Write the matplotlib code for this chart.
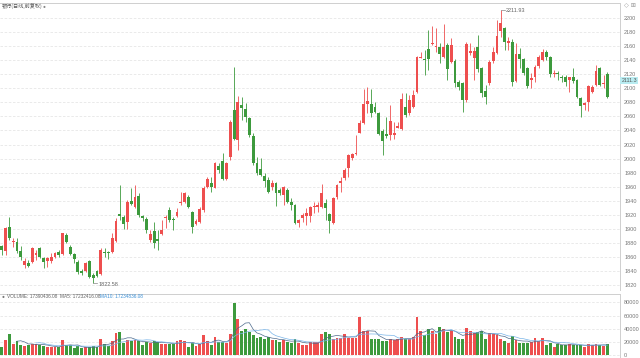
import numpy as np
import pandas as pd
import matplotlib
matplotlib.use("Agg")
import matplotlib.pyplot as plt
import matplotlib.transforms as mtransforms

# daily bars (red = up, green = down)
opens = [1875.8, 1869.2, 1903.3, 1881.0, 1881.0, 1869.2, 1848.8, 1851.1, 1853.5, 1863.0,
         1873.4, 1858.2, 1854.5, 1854.9, 1860.6, 1866.8, 1864.4, 1891.4, 1874.8, 1864.4,
         1853.5, 1840.7, 1840.7, 1854.5, 1834.6, 1840.7, 1835.5, 1866.8, 1867.2, 1867.7,
         1883.4, 1921.3, 1917.5, 1910.4, 1939.8, 1931.7, 1947.4, 1918.4, 1913.7, 1884.3,
         1897.1, 1885.3, 1892.4, 1915.1, 1927.0, 1914.6, 1918.4, 1936.5, 1938.8, 1945.0,
         1923.7, 1907.1, 1910.4, 1927.0, 1959.2, 1965.8, 1958.7, 1989.5, 1996.2, 1970.6,
         2002.8, 2069.2, 2026.5, 2076.3, 2070.1, 2057.3, 2032.7, 1994.3, 1984.8, 1975.3,
         1969.6, 1960.2, 1964.9, 1955.4, 1948.3, 1955.4, 1938.8, 1934.1, 1908.9, 1915.1,
         1918.4, 1918.4, 1930.8, 1931.7, 1931.7, 1937.4, 1921.3, 1908.9, 1945.9, 1964.9,
         1972.0, 1986.2, 2000.4, 2006.6, 2036.9, 2050.2, 2077.2, 2077.7, 2073.9, 2065.4,
         2039.3, 2035.1, 2033.6, 2033.6, 2044.1, 2041.7, 2073.9, 2064.4, 2073.9, 2095.2,
         2143.1, 2142.2, 2155.5, 2163.5, 2159.2, 2159.2, 2144.1, 2161.6, 2137.9, 2139.3,
         2109.5, 2107.1, 2083.4, 2150.7, 2142.7, 2159.2, 2128.4, 2096.7, 2107.1, 2139.3,
         2150.7, 2182.0, 2185.3, 2164.9, 2166.4, 2110.9, 2148.8, 2141.2, 2128.4, 2111.8,
         2116.6, 2131.7, 2140.3, 2152.1, 2145.0, 2120.4, 2122.3, 2116.6, 2116.6, 2111.8,
         2115.6, 2111.8, 2085.8, 2076.3, 2081.0, 2095.2, 2104.7, 2128.4, 2105.6, 2120.4]

highs = [1877.2, 1903.3, 1917.5, 1886.7, 1886.7, 1875.8, 1858.2, 1855.9, 1874.8, 1870.1,
         1874.8, 1860.6, 1860.6, 1865.4, 1866.8, 1870.1, 1894.7, 1894.7, 1877.2, 1866.3,
         1855.9, 1842.6, 1853.5, 1855.9, 1836.9, 1841.7, 1872.5, 1872.5, 1869.2, 1893.8,
         1915.1, 1962.5, 1919.9, 1941.2, 1957.8, 1962.5, 1950.7, 1919.9, 1916.6, 1898.5,
         1910.4, 1898.5, 1912.8, 1919.9, 1931.7, 1917.5, 1929.4, 1953.0, 1953.0, 1948.3,
         1926.0, 1913.7, 1931.7, 1961.1, 1973.4, 1974.4, 1995.7, 1993.3, 2007.6, 1995.7,
         2055.0, 2130.8, 2089.1, 2088.1, 2078.7, 2059.7, 2036.0, 2002.8, 2000.4, 1979.1,
         1974.4, 1969.6, 1967.3, 1957.8, 1961.1, 1957.8, 1943.6, 1935.5, 1913.7, 1922.2,
         1929.4, 1932.7, 1938.8, 1938.8, 1963.9, 1942.1, 1922.2, 1945.9, 1963.9, 1974.4,
         1986.2, 2006.6, 2008.5, 2033.6, 2055.0, 2098.6, 2101.4, 2098.6, 2081.0, 2066.8,
         2041.7, 2059.7, 2076.3, 2052.6, 2052.6, 2092.9, 2092.9, 2090.5, 2097.6, 2146.0,
         2152.1, 2154.5, 2182.9, 2188.6, 2185.3, 2164.0, 2191.5, 2164.0, 2171.1, 2141.2,
         2111.8, 2109.5, 2166.4, 2164.0, 2159.2, 2175.8, 2130.8, 2104.7, 2140.3, 2159.2,
         2197.2, 2211.93, 2187.7, 2173.5, 2169.7, 2164.0, 2156.9, 2142.7, 2130.8, 2121.3,
         2133.2, 2147.4, 2155.5, 2154.5, 2146.0, 2126.1, 2125.1, 2119.0, 2119.0, 2116.6,
         2128.4, 2112.8, 2088.1, 2081.0, 2104.7, 2104.7, 2133.2, 2130.8, 2119.0, 2123.7]

lows = [1863.0, 1863.0, 1884.3, 1874.8, 1865.4, 1855.9, 1844.0, 1846.4, 1851.1, 1855.9,
        1858.2, 1844.0, 1846.4, 1851.1, 1858.2, 1859.7, 1863.0, 1879.6, 1863.0, 1851.1,
        1836.0, 1834.6, 1839.3, 1829.8, 1822.58, 1832.2, 1834.6, 1860.6, 1856.8, 1866.3,
        1882.0, 1912.8, 1899.5, 1899.5, 1934.1, 1929.4, 1917.5, 1911.8, 1893.8, 1882.0,
        1872.5, 1870.1, 1891.4, 1900.9, 1910.4, 1898.5, 1917.5, 1934.1, 1936.5, 1929.4,
        1894.7, 1905.6, 1908.9, 1924.6, 1957.8, 1953.0, 1957.8, 1980.1, 1969.6, 1969.6,
        1998.1, 2026.5, 2012.3, 2055.0, 2052.6, 2031.3, 1991.0, 1976.8, 1975.3, 1960.2,
        1950.7, 1955.4, 1932.7, 1948.3, 1934.1, 1936.5, 1927.0, 1907.1, 1902.3, 1910.4,
        1905.6, 1910.4, 1922.2, 1924.6, 1929.4, 1912.8, 1893.8, 1907.1, 1942.1, 1953.0,
        1969.6, 1974.4, 1998.1, 2005.2, 2036.0, 2049.3, 2065.4, 2058.8, 2064.4, 2033.6,
        2005.2, 2028.9, 2026.5, 2027.5, 2043.1, 2040.7, 2059.7, 2062.1, 2071.5, 2092.9,
        2142.7, 2119.0, 2126.1, 2161.6, 2152.1, 2136.5, 2142.7, 2111.8, 2135.5, 2102.4,
        2097.6, 2066.8, 2081.0, 2147.4, 2111.8, 2123.7, 2088.1, 2077.7, 2104.7, 2136.5,
        2148.8, 2173.5, 2154.5, 2154.5, 2103.3, 2109.5, 2128.4, 2119.0, 2100.0, 2100.0,
        2109.5, 2128.4, 2139.3, 2140.3, 2115.6, 2116.6, 2111.8, 2109.5, 2103.3, 2095.2,
        2108.0, 2085.8, 2058.8, 2069.2, 2068.2, 2092.9, 2103.3, 2103.3, 2100.0, 2085.8]

closes = [1870.1, 1900.9, 1886.7, 1883.4, 1869.2, 1860.6, 1854.5, 1847.8, 1872.5, 1865.4,
          1860.6, 1852.6, 1858.2, 1860.6, 1865.4, 1863.0, 1893.8, 1881.0, 1864.4, 1856.8,
          1839.3, 1837.9, 1851.1, 1831.2, 1829.8, 1833.1, 1870.1, 1865.4, 1866.3, 1886.7,
          1911.8, 1918.4, 1907.1, 1938.8, 1935.5, 1945.9, 1919.9, 1915.1, 1898.5, 1892.4,
          1879.6, 1883.4, 1898.5, 1917.5, 1912.8, 1912.8, 1924.6, 1938.8, 1950.7, 1931.7,
          1903.3, 1911.3, 1927.9, 1958.7, 1970.6, 1960.2, 1993.3, 1983.9, 1971.1, 1993.3,
          2052.6, 2027.5, 2081.0, 2071.5, 2059.7, 2033.6, 1994.3, 1979.1, 1976.8, 1968.2,
          1953.0, 1965.8, 1951.6, 1951.6, 1959.2, 1938.8, 1934.1, 1908.9, 1912.8, 1919.9,
          1923.2, 1931.7, 1932.7, 1934.1, 1951.6, 1929.4, 1911.8, 1943.6, 1962.5, 1968.2,
          1983.9, 2004.7, 2006.6, 2008.5, 2051.2, 2077.7, 2082.5, 2064.4, 2065.9, 2035.1,
          2025.6, 2032.2, 2054.0, 2036.9, 2046.4, 2084.8, 2062.1, 2083.4, 2090.5, 2144.1,
          2145.0, 2140.3, 2141.7, 2164.9, 2160.2, 2148.8, 2158.3, 2127.0, 2161.6, 2107.1,
          2101.4, 2083.4, 2163.0, 2153.6, 2153.6, 2127.0, 2093.8, 2088.1, 2137.9, 2152.1,
          2174.4, 2193.4, 2166.4, 2167.8, 2109.5, 2148.8, 2141.2, 2122.3, 2103.3, 2114.2,
          2129.9, 2144.1, 2152.1, 2144.1, 2120.4, 2122.3, 2120.4, 2114.2, 2109.5, 2115.6,
          2110.9, 2087.2, 2074.9, 2078.7, 2103.3, 2102.4, 2124.6, 2104.7, 2107.1, 2087.2]

# volume in thousands of axis units
volumes_k = [12.8, 22.7, 31.6, 17.8, 21.7, 16.3, 13.8, 16.3, 17.8, 16.8,
             16.3, 13.8, 12.8, 11.9, 12.8, 11.9, 23.7, 15.3, 15.3, 10.4,
             13.8, 10.4, 11.9, 11.9, 13.8, 12.8, 25.2, 17.8, 13.8, 21.7,
             34.1, 35.1, 18.8, 22.7, 21.7, 23.7, 21.7, 15.3, 20.3, 18.8,
             21.7, 20.3, 17.8, 16.8, 16.8, 16.8, 21.7, 22.7, 21.7, 12.8,
             18.8, 13.8, 16.8, 30.1, 21.7, 15.3, 27.7, 20.3, 20.3, 18.8,
             32.6, 79.5, 54.8, 37.5, 40.0, 35.1, 30.1, 26.7, 27.7, 25.2,
             27.7, 22.7, 23.7, 20.3, 23.7, 20.3, 18.8, 25.2, 18.8, 15.3,
             15.3, 20.3, 20.3, 20.3, 31.6, 35.1, 32.6, 25.2, 26.7, 26.7,
             32.6, 26.7, 26.7, 26.7, 58.3, 37.5, 36.6, 25.2, 25.2, 25.2,
             21.7, 21.7, 25.2, 22.7, 25.2, 27.7, 25.2, 25.2, 27.7, 57.3,
             36.6, 30.1, 40.0, 37.5, 32.6, 43.5, 40.0, 35.1, 37.5, 27.7,
             25.2, 25.2, 41.5, 37.5, 33.6, 35.1, 37.5, 25.2, 33.6, 32.6,
             30.1, 25.2, 21.7, 18.8, 28.7, 22.7, 18.8, 18.8, 18.8, 20.3,
             26.7, 21.7, 26.7, 15.3, 18.8, 12.8, 16.8, 15.3, 15.3, 17.8,
             15.3, 15.3, 15.3, 11.9, 17.8, 15.3, 16.8, 15.3, 13.8, 17.4]

price_ticks = list(range(1820, 2220, 20))
volume_ticks = [0, 20000, 40000, 60000, 80000]
title = "银行(日线,前复权)"
vol_legend = ["VOLUME: 17390436.08", "MA5: 17232416.08", "MA10: 17234836.08"]
last_price = 2111.3

RED = "#ee4f4f"
GREEN = "#3d9a3d"
GRID = "#e6e6e6"
AXC = "#cfcfcf"
TXT = "#777777"
CJK = ["Noto Sans CJK SC", "DejaVu Sans"]
plt.rcParams["font.family"] = ["Liberation Sans", "DejaVu Sans"]

o = np.array(opens); h = np.array(highs); l = np.array(lows); c = np.array(closes)
vol = np.array(volumes_k) * 1000
n = len(o)
x = np.arange(n)
up = c >= o
colors = np.where(up, RED, GREEN)

W, H = 640, 358
fig = plt.figure(figsize=(W / 100, H / 100), dpi=100)
ax = fig.add_axes([0, 1 - 290 / H, 620 / W, 287 / H])
axv = fig.add_axes([0, 0, 620 / W, 64 / H])

# candles
ax.vlines(x, l, h, colors=colors, linewidth=0.6, zorder=2)
body_lo = np.minimum(o, c)
body_h = np.maximum(np.abs(c - o), 0.8)
ax.bar(x, body_h, bottom=body_lo, width=0.76, color=colors, linewidth=0, zorder=3)

ax.set_xlim(-0.45, 162.3)
ax.set_ylim(1813.1, 2221.3)
ax.set_yticks(price_ticks)
ax.set_yticklabels([str(t) for t in price_ticks])
ax.yaxis.tick_right()
ax.tick_params(axis="y", length=0, labelsize=4, labelcolor=TXT, pad=3)
ax.set_xticks([])
ax.grid(axis="y", color=GRID, linestyle=(0, (3, 2)), linewidth=0.6)
ax.set_axisbelow(True)
for side in ["left", "bottom"]:
    ax.spines[side].set_visible(False)
for side in ["top", "right"]:
    ax.spines[side].set_color(AXC)
    ax.spines[side].set_linewidth(0.7)

# max / min markers
imax = int(np.argmax(h)); imin = int(np.argmin(l))
ax.plot([imax, imax + 1.1], [h[imax], h[imax]], color="#888888", lw=0.5)
ax.text(imax + 1.4, h[imax] - 2, f"{h[imax]:.2f}", fontsize=4, color="#666666", va="center")
ax.plot([imin, imin + 1.1], [l[imin], l[imin]], color="#888888", lw=0.5)
ax.text(imin + 1.4, l[imin] - 1, f"{l[imin]:.2f}", fontsize=4, color="#666666", va="center")

# last price tag
trans = mtransforms.blended_transform_factory(ax.transAxes, ax.transData)
ax.text(1.002, last_price, f"{last_price}", transform=trans, fontsize=3.8, color="#555555",
        va="center", ha="left", clip_on=False, zorder=6,
        bbox=dict(boxstyle="square,pad=0.2", fc="#b9ecf1", ec="none"))

# header texts
fig.text(2 / W, 1 - 6 / H, title, fontsize=3.7, color="#555555", family=CJK, va="center")
fig.text(43 / W, 1 - 6 / H, "●", fontsize=3.5, color="#888888", va="center")
fig.text(624 / W, 1 - 6 / H, "◇ ⊞", fontsize=4.5, color="#999999", va="center",
         family=["DejaVu Sans"])

# volume panel
axv.bar(x, vol, width=0.76, color=colors, linewidth=0)
vs = pd.Series(vol)
axv.plot(x, vs.rolling(5).mean(), color="#4d6a8c", lw=0.5)
axv.plot(x, vs.rolling(10).mean(), color="#78b4e8", lw=0.5)
axv.set_xlim(ax.get_xlim())
axv.set_ylim(-4090, 92870)
axv.set_yticks(volume_ticks)
axv.set_yticklabels([str(t) for t in volume_ticks])
axv.yaxis.tick_right()
axv.tick_params(axis="y", length=0, labelsize=4, labelcolor=TXT, pad=3)
axv.set_xticks([])
axv.grid(axis="y", color=GRID, linestyle=(0, (3, 2)), linewidth=0.6)
axv.set_axisbelow(True)
for side in ["left", "bottom"]:
    axv.spines[side].set_visible(False)
for side in ["top", "right"]:
    axv.spines[side].set_color(AXC)
    axv.spines[side].set_linewidth(0.7)

ly = 1 - 297 / H
fig.text(2 / W, ly, "●", fontsize=3.5, color="#777777", va="center")
fig.text(7 / W, ly, vol_legend[0], fontsize=3.4, color="#666666", va="center")
fig.text(60 / W, ly, vol_legend[1], fontsize=3.4, color="#666666", va="center")
fig.text(100 / W, ly, vol_legend[2], fontsize=3.4, color="#3a8fd6", va="center")

fig.savefig("out.png", dpi=100)
